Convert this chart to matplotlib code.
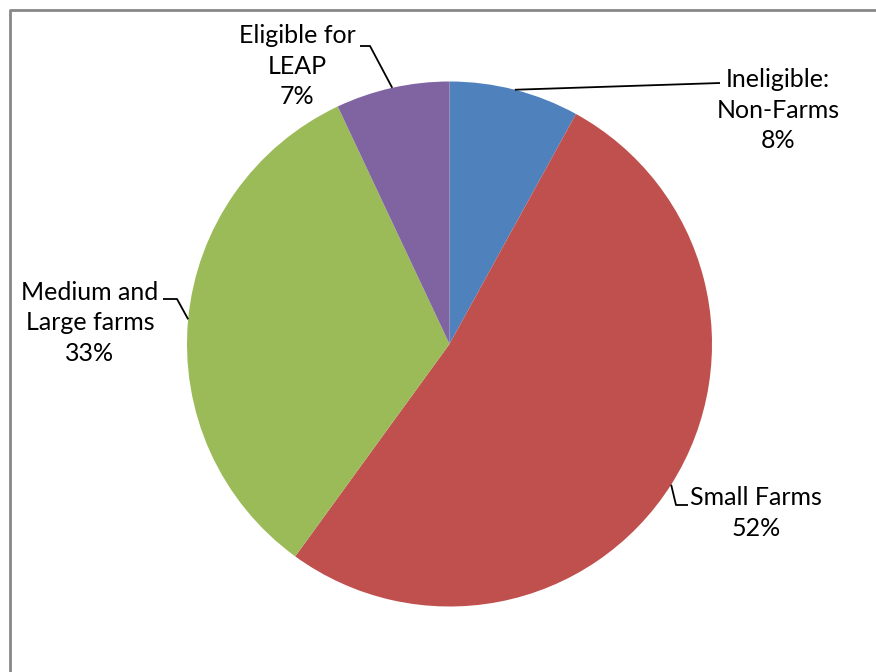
import numpy as np
import matplotlib.pyplot as plt

plt.rcParams['font.family'] = ['Lato', 'DejaVu Sans']

labels = ['Ineligible:\nNon-Farms', 'Small Farms', 'Medium and\nLarge farms', 'Eligible for\nLEAP']
shares = [8, 52, 33, 7]
colors = ['#4F81BD', '#C0504D', '#9BBB59', '#8064A2']

# label text centres and the elbow of each leader line (pixel-ish coords, y up)
text_pos = [(778, 562), (756, 159), (90, 349), (297, 606)]
elbow_pos = [(720, 589), (676, 167), (177, 373), (370, 626)]
line_end = [(720, 589), (688, 167), (163, 373), (360, 626)]

fig = plt.figure(figsize=(8.76, 6.72), dpi=100)
ax = fig.add_axes([0, 0, 1, 1])

cx, cy, r = 449.5, 328.0, 262.5
wedges, _ = ax.pie(shares, colors=colors, startangle=90, counterclock=False,
                   center=(cx, cy), radius=r, frame=True)
ax.set_xlim(0, 876)
ax.set_ylim(0, 672)
ax.axis('off')

for w, lab, share, tp, el, le in zip(wedges, labels, shares, text_pos, elbow_pos, line_end):
    mid = np.deg2rad((w.theta1 + w.theta2) / 2)
    px, py = cx + r * np.cos(mid), cy + r * np.sin(mid)
    ax.plot([px, el[0], le[0]], [py, el[1], le[1]], color='black', lw=1.3,
            solid_capstyle='butt', zorder=3)
    ax.text(tp[0], tp[1], f'{lab}\n{share}%', ha='center', va='center',
            fontsize=18, linespacing=1.4, color='black')

# chart frame (only left and top edges show)
ax.plot([10, 10, 876], [0, 662, 662], color='#878787', lw=2, zorder=4)

fig.savefig('out.png', dpi=100)
